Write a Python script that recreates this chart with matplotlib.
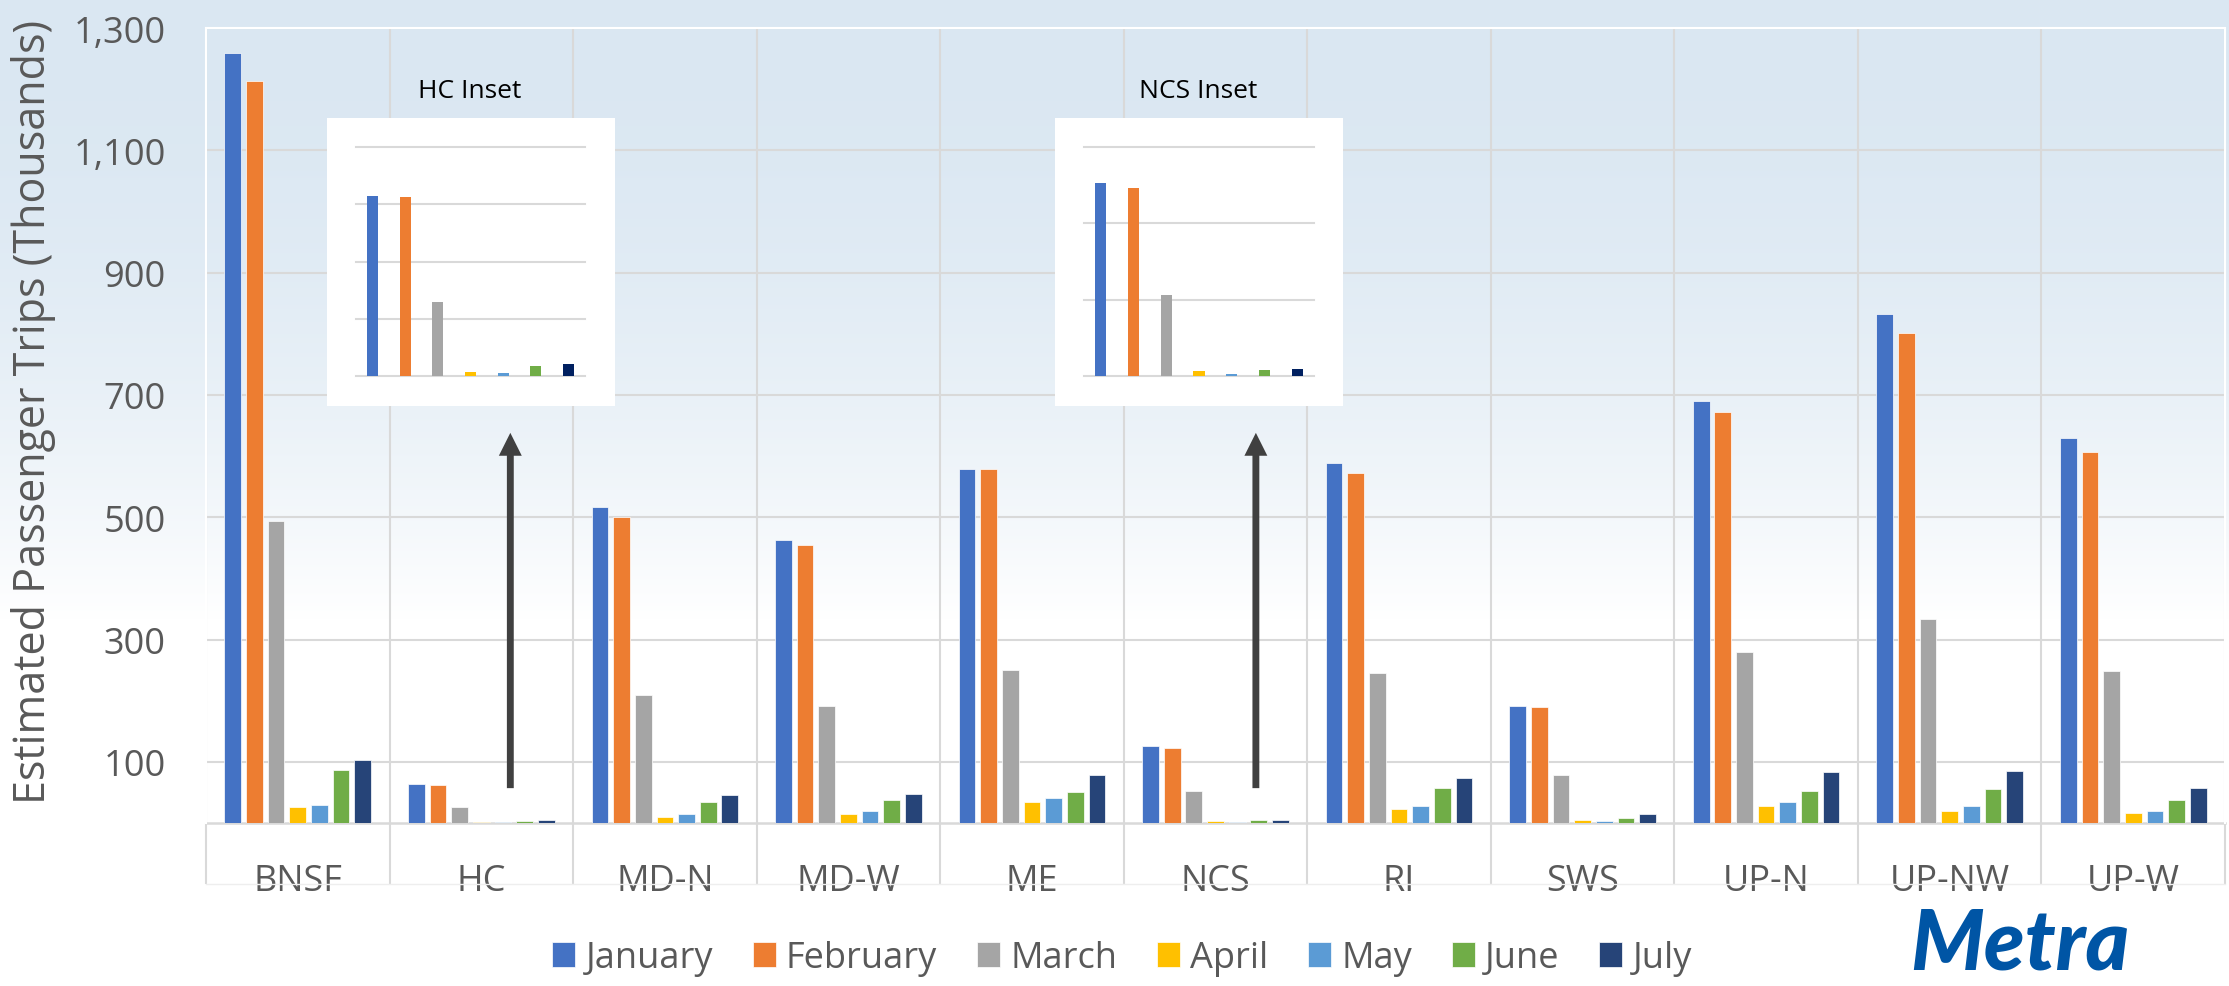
import matplotlib
matplotlib.use('Agg')
import matplotlib.pyplot as plt
import numpy as np

plt.rcParams['font.family'] = ['Open Sans', 'DejaVu Sans']

# ---------------- data (thousands of trips) ----------------
lines = ['BNSF', 'HC', 'MD-N', 'MD-W', 'ME', 'NCS', 'RI', 'SWS', 'UP-N', 'UP-NW', 'UP-W']
months = ['January', 'February', 'March', 'April', 'May', 'June', 'July']
january  = [1259, 63.0, 517, 462, 579, 126.5, 589, 192, 690, 832, 630]
february = [1213, 62.5, 501, 455, 579, 123.0, 573, 190, 672, 801, 606]
march    = [494, 25.8, 210, 192, 250, 53.0, 246, 79, 280, 333, 249]
april    = [26, 1.4, 10, 15, 34, 3.5, 23, 4.4, 27, 20, 16]
may      = [29, 1.0, 14, 19.5, 41, 1.5, 27, 3.5, 34, 27, 20]
june     = [87, 3.5, 35, 37.5, 51, 4.1, 57, 8.8, 53, 55, 37]
july     = [103, 4.2, 46, 48, 78, 4.8, 74, 15, 83, 85, 58]
series = [january, february, march, april, may, june, july]

yticks = [100, 300, 500, 700, 900, 1100, 1300]
hc_inset_ticks = [0, 20, 40, 60, 80]
ncs_inset_ticks = [0, 50, 100, 150]

colors = ['#4472C4', '#ED7D31', '#A5A5A5', '#FFC000', '#5B9BD5', '#70AD47', '#264478']
inset_colors = ['#4472C4', '#ED7D31', '#A5A5A5', '#FFC000', '#5B9BD5', '#70AD47', '#002060']
grid_c = '#d9d9d9'
text_c = '#595959'

W, H = 2229, 987
fig = plt.figure(figsize=(W / 100, H / 100), dpi=100)

def fx(px):
    return px / W

def fy(py):
    return 1 - py / H

# ---------------- background gradient ----------------
bg = fig.add_axes([0, 0, 1, 1], zorder=-10)
rows = np.arange(H)
t = np.clip(rows / 620.0, 0, 1)
k = 1 - t ** 2
top = np.array([218, 231, 242]) / 255.0
grad = 1 - (1 - top)[None, :] * k[:, None]
bg.imshow(grad[:, None, :], aspect='auto', extent=[0, 1, 0, 1])
bg.axis('off')

# ---------------- main axes ----------------
L, R, T, B = 206, 2225, 29, 824
ax = fig.add_axes([fx(L), fy(B), fx(R - L), (B - T) / H])
ax.patch.set_alpha(0)

x = np.arange(len(lines))
slot = 0.118
width = 0.091
handles = []
for j, (m, vals) in enumerate(zip(months, series)):
    h = ax.bar(x + (j - 3) * slot, vals, width, color=colors[j], edgecolor='white',
               linewidth=0.5, zorder=3, label=m)
    handles.append(h)

ax.set_xlim(-0.5, len(lines) - 0.5)
ax.set_ylim(0, 1300)
ax.set_yticks(yticks)
ax.set_yticklabels([f'{v:,}' for v in yticks])
ax.set_xticks(x)
ax.set_xticklabels(lines)
ax.set_xticks(np.arange(-0.5, len(lines), 1), minor=True)
ax.set_axisbelow(True)
ax.yaxis.grid(True, color=grid_c, lw=1.5)
ax.xaxis.grid(True, which='minor', color=grid_c, lw=1.5)
ax.tick_params(axis='x', which='major', length=0, pad=29, labelsize=26, labelcolor=text_c)
ax.tick_params(axis='x', which='minor', length=44, width=1.5, color=grid_c, direction='out')
ax.tick_params(axis='y', length=0, pad=29, labelsize=26, labelcolor=text_c)
for s in ['left', 'top', 'right']:
    ax.spines[s].set_color('white')
    ax.spines[s].set_linewidth(1.5)
ax.spines['bottom'].set_visible(False)
ax.axhline(0, color=grid_c, lw=1.8, zorder=2.5, clip_on=False)
ax.plot([-0.5, len(lines) - 0.5], [-100, -100], color='#eeeeee', lw=1, clip_on=False)

fig.text(fx(34), fy(412), 'Estimated Passenger Trips (Thousands)', rotation=90,
         ha='center', va='center', fontsize=31, color=text_c)

# arrows pointing to the insets
for xa in (1.158, 5.22):
    ax.annotate('', xy=(xa, 638), xytext=(xa, 57),
                arrowprops=dict(arrowstyle='simple,head_length=0.5,head_width=0.5,tail_width=0.15',
                                mutation_scale=33, fc='#404040', ec='none',
                                shrinkA=0, shrinkB=0), zorder=4)

# ---------------- insets ----------------
def make_inset(box, area, idx, ticks, title, title_xy):
    bx0, by0, bx1, by1 = box
    bax = fig.add_axes([fx(bx0), fy(by1), fx(bx1 - bx0), (by1 - by0) / H])
    bax.set_facecolor('white')
    bax.set_xticks([])
    bax.set_yticks([])
    for s in bax.spines.values():
        s.set_visible(False)
    ax0, ay0, ax1, ay1 = area
    iax = fig.add_axes([fx(ax0), fy(ay1), fx(ax1 - ax0), (ay1 - ay0) / H])
    iax.patch.set_alpha(0)
    vals = [s[idx] for s in series]
    iax.bar(np.arange(7), vals, 0.34, color=inset_colors, zorder=3)
    iax.set_xlim(-0.5, 6.5)
    iax.set_ylim(0, ticks[-1])
    for tk in ticks:
        iax.axhline(tk, color=grid_c, lw=1.5, zorder=1, clip_on=False)
    iax.set_xticks([])
    iax.set_yticks([])
    for s in iax.spines.values():
        s.set_visible(False)
    fig.text(fx(title_xy[0]), fy(title_xy[1]), title, ha='center', va='center',
             fontsize=19, color='black')

make_inset((327, 119, 615, 407), (356, 148, 585, 377), lines.index('HC'),
           hc_inset_ticks, 'HC Inset', (470, 92))
make_inset((1055, 119, 1343, 407), (1084, 148, 1314, 377), lines.index('NCS'),
           ncs_inset_ticks, 'NCS Inset', (1198, 92))

# ---------------- legend ----------------
fig.legend(handles, months, loc='center', bbox_to_anchor=(fx(1122), fy(959)), ncol=7,
           frameon=False, fontsize=26, handlelength=0.64, handleheight=0.67,
           handletextpad=0.28, columnspacing=1.1, labelcolor=text_c)

# ---------------- logo ----------------
fig.text(fx(1910), fy(984), 'Metra', fontsize=60, fontweight='black', fontstyle='italic',
         family=['Lato', 'DejaVu Sans'], color='#0055A5', ha='left', va='bottom')

fig.savefig('out.png', dpi=100)
